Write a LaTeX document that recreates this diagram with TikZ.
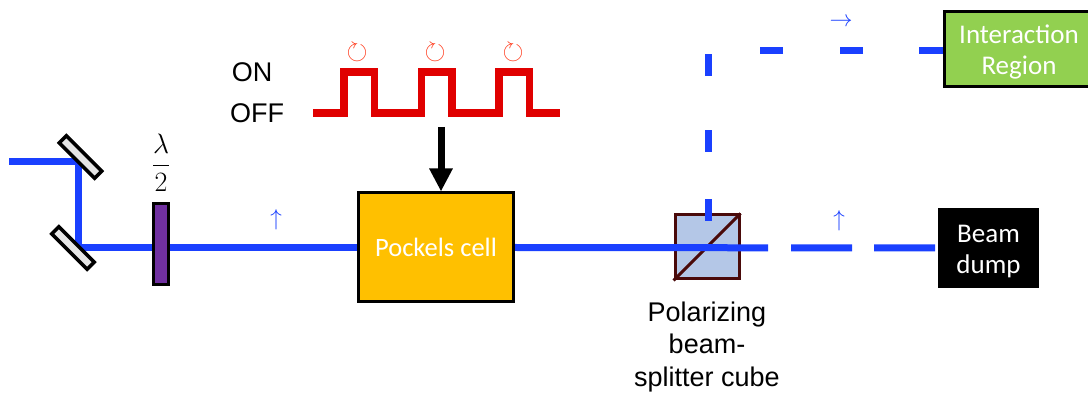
\documentclass[tikz,border=0pt]{standalone}
\usepackage{fix-cm}
\usepackage{amsmath,amssymb}
\usepackage[no-math]{fontspec}
\setmainfont{Liberation Sans}
\newfontfamily\carlito{Carlito}
\usepackage{tikz}
\usetikzlibrary{positioning, arrows.meta, backgrounds}

\definecolor{beamblue}{HTML}{1A40FF}
\definecolor{pulsered}{HTML}{E00000}
\definecolor{spinred}{HTML}{FF3010}
\definecolor{cubeedge}{HTML}{4A0A0A}
\definecolor{cubefill}{HTML}{B4C7E7}
\definecolor{cellfill}{HTML}{FFC000}
\definecolor{regionfill}{HTML}{92D050}
\definecolor{platefill}{HTML}{7030A0}
\newcommand{\padtop}{\rule{0pt}{24pt}}

\begin{document}
\begin{tikzpicture}[
    x=1pt, y=-1pt,
    box/.style={draw=black, line width=3pt, align=center, text=white, inner sep=0pt,
                font=\carlito\fontsize{27}{31}\selectfont},
    mirror/.style={draw=black, line width=3.5pt, fill=gray!20, minimum width=50pt, minimum height=10pt,
                   inner sep=0pt},
    plate/.style={draw=black, line width=3pt, fill=platefill, minimum width=15pt, minimum height=81pt,
                  inner sep=0pt},
    splitter/.style={draw=cubeedge, line width=3pt, fill=cubefill, minimum width=64pt, minimum height=64pt,
                     inner sep=0pt},
    lbl/.style={font=\fontsize{27}{32.5}\selectfont, align=center, inner sep=0pt},
    beam/.style={beamblue, line width=7pt},
    pulse/.style={pulsered, line width=7.5pt},
    pol/.style={text=beamblue, inner sep=0pt, font=\fontsize{23}{24}\selectfont},
    spin/.style={text=spinred, inner sep=0pt, font=\fontsize{27}{27}\selectfont},
    gate/.style={-{Triangle[length=23pt, width=22pt]}, line width=7pt, black},
]
\useasboundingbox (0,0) rectangle (1088,395);

% Optical elements
\node[box, fill=cellfill, font=\carlito\fontsize{26.5}{31}\selectfont, minimum width=155pt, minimum height=109pt] (pockels) at (436,247.5) {Pockels cell};
\node[plate] (wp) at (161,244) {};
\node[lbl, font=\fontsize{28}{32}\selectfont, above=10pt of wp] (lam) {$\displaystyle\frac{\lambda}{2}$};
\node[mirror, rotate=-45] (m1) at (80.5,157) {};
\node[mirror, rotate=-45] (m2) at (73,248) {};
\node[splitter] (pbs) at (707,247) {};
\draw[cubeedge, line width=3pt] (pbs.south west) -- (pbs.north east);

% Targets
\node[box, fill=black, draw=none, minimum width=101pt, minimum height=80pt] (dump) at (988.5,248) {\padtop Beam\\dump};
\node[box, fill=regionfill, minimum width=149pt, minimum height=75pt] (region) at (1019,49) {\padtop Interaction\\Region};

% Beam path
\coordinate (start) at (9,161.5);
\coordinate (hit1) at (78,161.5);
\coordinate (hit2) at (78,247.5);
\coordinate (split) at (708,221);
\coordinate (corner) at (708,51);
\coordinate (port) at (region.west |- corner);
\begin{scope}[on background layer]
\draw[beam] (start) -- (hit1) -- (hit2) -- (pockels.west);
\end{scope}
\draw[beam, dash pattern=on 253pt off 23pt on 61pt off 22pt on 61pt off 20pt] (pockels.east) -- (dump.west);
\draw[beam, dash pattern=on 22pt off 47pt on 22pt off 54pt on 22pt off 60pt] (split) -- (corner);
\draw[beam, dash pattern=on 24pt off 56pt on 23pt off 57pt on 23pt off 60pt] (port) -- (corner);

% Polarization marks
\node[pol] (pol1) at (276,220) {$\uparrow$};
\node[pol] (pol2) at (839,221) {$\uparrow$};
\node[pol] (pol3) at (841,22) {$\rightarrow$};

% Switching signal
\foreach \x in {313,390.5,468}
    \draw[pulse] (\x,113) -- ++(31,0) -- ++(0,-41) -- ++(30.5,0) -- ++(0,41) -- ++(30.5,0);
\foreach \x/\name in {357/s1,435/s2,513/s3}
    \node[spin] (\name) at (\x,53) {$\circlearrowright$};
\node[lbl] (on) at (252,72) {ON};
\node[lbl] (off) at (257,113) {OFF};
\coordinate (gatetop) at (441,127);
\draw[gate] (gatetop) -- (pockels.north -| gatetop);

% Cube label
\node[lbl, below=21pt of pbs] (pbslabel) {Polarizing\\beam-\\splitter cube};

\end{tikzpicture}
\end{document}
